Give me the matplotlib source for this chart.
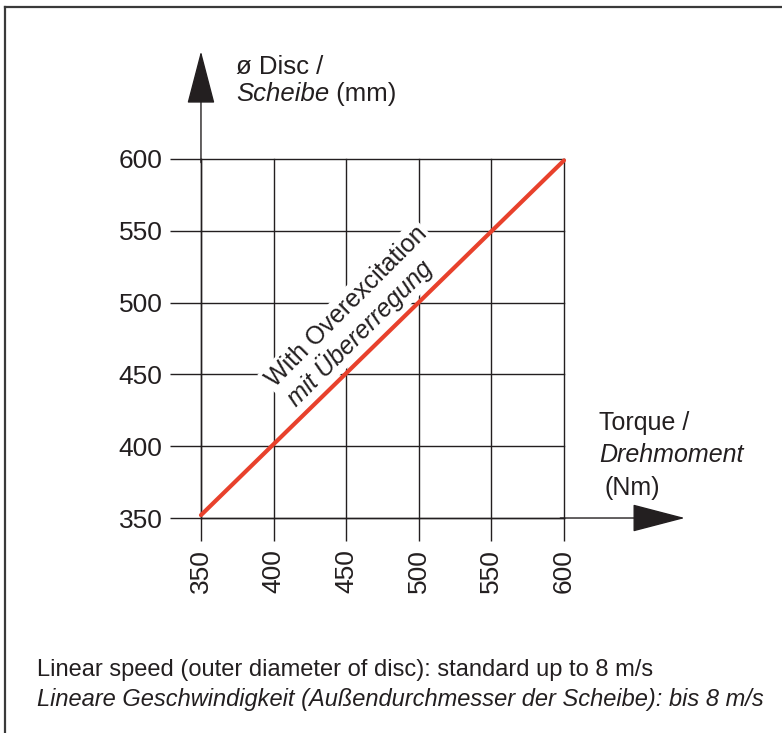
import matplotlib
matplotlib.use("Agg")
import matplotlib.pyplot as plt
from matplotlib.lines import Line2D

plt.rcParams["font.family"] = ["Liberation Sans", "DejaVu Sans"]

# data
torque = [350, 600]
disc = [352, 599]
x_ticks = [350, 400, 450, 500, 550, 600]
y_ticks = [350, 400, 450, 500, 550, 600]

RED = "#e8412c"
INK = "#231f20"

fig = plt.figure(figsize=(7.82, 7.33), dpi=100)
ax = fig.add_axes([0.2570, 0.2933, 0.4642, 0.4898])

ax.set_xlim(350, 600)
ax.set_ylim(350, 600)
ax.set_xticks(x_ticks)
ax.set_yticks(y_ticks)
ax.set_xticklabels([str(v) for v in x_ticks], rotation=90)
ax.tick_params(axis="x", direction="out", length=16.5, width=1.0, color=INK,
               pad=6.0, labelsize=19, labelcolor=INK)
ax.tick_params(axis="y", direction="out", length=22.3, width=1.0, color=INK,
               pad=5.5, labelsize=19, labelcolor=INK)
for side in ["top", "right"]:
    ax.spines[side].set_visible(False)
for side in ["left", "bottom"]:
    ax.spines[side].set_linewidth(1.0)
    ax.spines[side].set_color(INK)
ax.grid(True, color=INK, linewidth=1.0)
for gl in ax.get_xgridlines() + ax.get_ygridlines():
    gl.set_clip_on(False)

# the curve
ax.plot(torque, disc, color=RED, linewidth=3.0, solid_capstyle="round",
        zorder=5, clip_on=False)

# axis arrows
arrow = dict(arrowstyle="-|>,head_length=3.45,head_width=0.9", color=INK,
             linewidth=1.0, shrinkA=0, shrinkB=0, mutation_scale=10)
ax.annotate("", xy=(0, 1.30), xytext=(0, 0.99), xycoords="axes fraction",
            textcoords="axes fraction", arrowprops=arrow)
ax.annotate("", xy=(1.333, 0), xytext=(0.99, 0), xycoords="axes fraction",
            textcoords="axes fraction", arrowprops=arrow)

# axis titles
ax.text(0.096, 1.236, "ø Disc /", transform=ax.transAxes, fontsize=18.5,
        color=INK, va="baseline", ha="left")
sch = ax.text(0.096, 1.147, "Scheibe", transform=ax.transAxes, fontsize=18.5,
              color=INK, va="bottom", ha="left", style="italic")
ax.annotate(" (mm)", xy=(1, 0), xycoords=sch, fontsize=18.5, color=INK,
            va="bottom", ha="left")

ax.text(1.096, 0.245, "Torque /", transform=ax.transAxes, fontsize=18,
        color=INK, va="baseline", ha="left")
ax.text(1.096, 0.156, "Drehmoment", transform=ax.transAxes, fontsize=18,
        color=INK, va="baseline", ha="left", style="italic")
ax.text(1.113, 0.064, "(Nm)", transform=ax.transAxes, fontsize=18,
        color=INK, va="baseline", ha="left")

# label along the line
box = dict(facecolor="white", edgecolor="none", pad=2)
ax.text(450, 497, "With Overexcitation", fontsize=18, color=INK, rotation=45,
        rotation_mode="anchor", ha="center", va="center", bbox=box, zorder=4)
ax.text(459, 479, "mit Übererregung", fontsize=18, color=INK, rotation=45,
        rotation_mode="anchor", ha="center", va="center", style="italic",
        bbox=box, zorder=4)

# footnote
fig.text(37 / 782, 1 - 676 / 733,
         "Linear speed (outer diameter of disc): standard up to 8 m/s",
         fontsize=17, color=INK, va="baseline", ha="left")
fig.text(37 / 782, 1 - 706 / 733,
         "Lineare Geschwindigkeit (Außendurchmesser der Scheibe): bis 8 m/s",
         fontsize=17, color=INK, va="baseline", ha="left", style="italic")

# frame
fig.add_artist(Line2D([5 / 782, 5 / 782], [0, 1 - 7 / 733],
                      transform=fig.transFigure, color="#3a3a3a", linewidth=1.6))
fig.add_artist(Line2D([5 / 782, 1], [1 - 7 / 733, 1 - 7 / 733],
                      transform=fig.transFigure, color="#3a3a3a", linewidth=1.6))

fig.savefig("out.png", dpi=100, facecolor="white")
